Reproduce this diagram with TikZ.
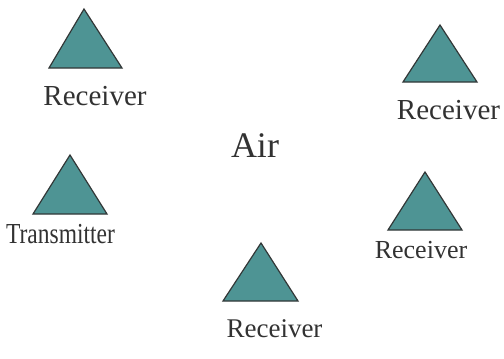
\documentclass[tikz,border=0pt]{standalone}
\usepackage{fontspec}
\setmainfont{Liberation Serif}
\usepackage{graphicx}
\definecolor{tealfill}{RGB}{78,148,148}
\definecolor{edgecol}{RGB}{50,55,55}
\definecolor{txtcol}{RGB}{50,50,50}
\begin{document}
\begin{tikzpicture}[x=1pt,y=-1pt,
  tri/.style={fill=tealfill,draw=edgecol,line width=1.2pt,line join=miter},
  lbl/.style={anchor=base,inner sep=0pt,text=txtcol,font=\fontsize{29}{32}\selectfont}]
\useasboundingbox (0,0) rectangle (504,359);
% triangles
\draw[tri] (84,9) -- (49,68) -- (122,68) -- cycle;
\draw[tri] (440,25) -- (403,82) -- (477,82) -- cycle;
\draw[tri] (70,155) -- (33,214) -- (107,214) -- cycle;
\draw[tri] (261,243) -- (223,301) -- (298,301) -- cycle;
\draw[tri] (425,172) -- (388,230) -- (462,230) -- cycle;
% labels
\node[lbl] (r1) at (95,105) {Receiver};
\node[lbl] (r2) at (448.5,119) {Receiver};
\node[lbl] (tx) at (60.5,243) {\scalebox{0.81}[1]{Transmitter}};
\node[lbl,font=\fontsize{27}{30}\selectfont] (r4) at (274.5,337) {Receiver};
\node[lbl,font=\fontsize{26}{29}\selectfont] (r5) at (421,258) {Receiver};
\node[lbl,font=\fontsize{36}{40}\selectfont] (air) at (255,157) {Air};
\end{tikzpicture}
\end{document}
